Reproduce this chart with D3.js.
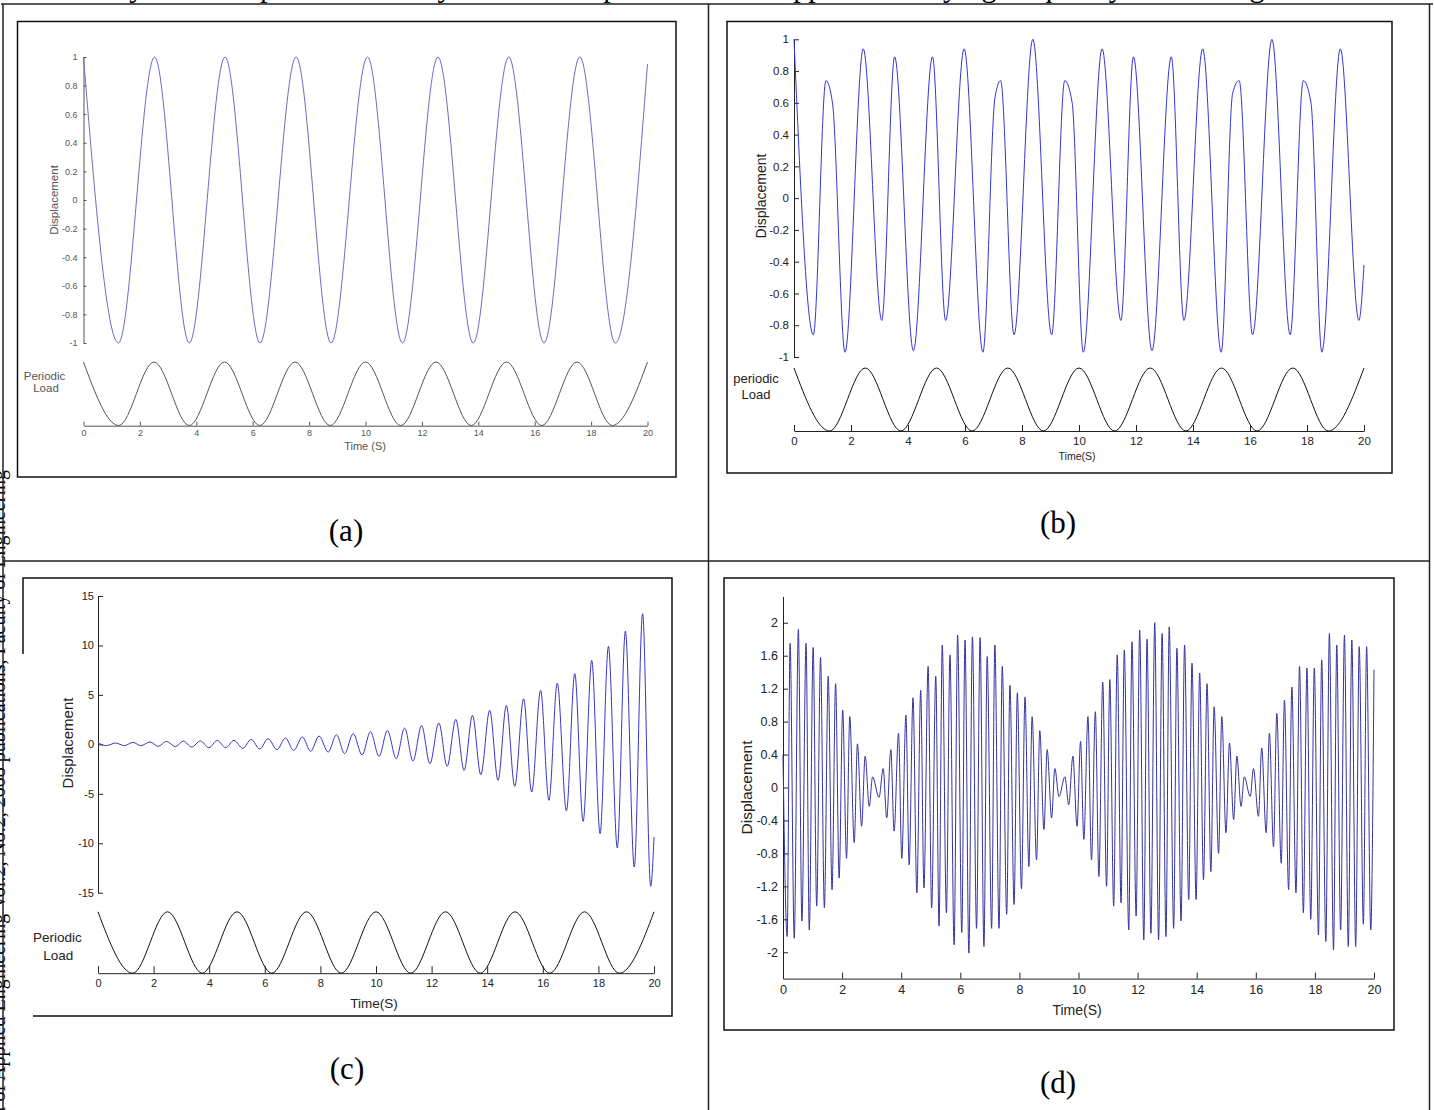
<!DOCTYPE html>
<html>
<head>
<meta charset="utf-8">
<script src="https://cdn.jsdelivr.net/npm/d3@7"></script>
<style>
body { margin: 0; background: #fff; }
svg { display: block; }
</style>
</head>
<body>
<svg id="fig" width="1434" height="1110"></svg>
<script>
// ---- data ----
// shared time axis ticks
const xTicks = [0, 2, 4, 6, 8, 10, 12, 14, 16, 18, 20];
const xTickLabels = ["0", "2", "4", "6", "8", "10", "12", "14", "16", "18", "20"];

// periodic load (same in a, b, c): extrema, normalised
const loadT = [0, 1.25, 2.5, 3.75, 5, 6.25, 7.5, 8.75, 10, 11.25, 12.5, 13.75, 15, 16.25, 17.5, 18.75, 20];
const loadV = [1, -1, 1, -1, 1, -1, 1, -1, 1, -1, 1, -1, 1, -1, 1, -1, 1];

// (a) displacement extrema
const dispA_t = [0, 1.24, 2.52, 3.75, 5.02, 6.26, 7.54, 8.78, 10.07, 11.31, 12.57, 13.82, 15.08, 16.33, 17.6, 18.86, 20];
const dispA_v = [1, -1, 1, -1, 1, -1, 1, -1, 1, -1, 1, -1, 1, -1, 1, -1, 0.95];

// (b) displacement extrema (plus the small shoulders next to the low peaks)
const dispB_t = [0, 0.68, 1.12, 1.35, 1.79, 2.43, 3.08, 3.53, 4.19, 4.86, 5.32, 5.97, 6.63, 7.05, 7.25, 7.72, 8.38, 9.04, 9.50, 9.76,
  10.15, 10.81, 11.47, 11.91, 12.56, 13.24, 13.68, 14.34, 14.99, 15.39, 15.62, 16.09, 16.77, 17.41, 17.87, 18.14, 18.52, 19.17, 19.82, 20];
const dispB_v = [1, -0.86, 0.74, 0.60, -0.97, 0.94, -0.77, 0.89, -0.96, 0.89, -0.77, 0.94, -0.97, 0.63, 0.74, -0.86, 1.0, -0.86, 0.74, 0.60,
  -0.97, 0.94, -0.77, 0.89, -0.96, 0.89, -0.77, 0.94, -0.97, 0.66, 0.74, -0.86, 1.0, -0.86, 0.74, 0.60, -0.97, 0.94, -0.77, -0.42];

// (c) growing response extrema
const dispC_t = [0, 0.30, 0.63, 0.95, 1.26, 1.54, 1.87, 2.17, 2.46, 2.79, 3.07, 3.37, 3.68, 3.99, 4.29, 4.59, 4.89, 5.21, 5.51, 5.82,
  6.12, 6.44, 6.74, 7.04, 7.35, 7.65, 7.95, 8.28, 8.58, 8.87, 9.18, 9.50, 9.80, 10.11, 10.41, 10.73, 11.03, 11.33, 11.64, 11.94,
  12.26, 12.56, 12.87, 13.17, 13.47, 13.77, 14.09, 14.39, 14.69, 14.99, 15.31, 15.60, 15.92, 16.22, 16.52, 16.85, 17.15, 17.45, 17.76, 18.06,
  18.36, 18.68, 18.97, 19.29, 19.59, 19.88, 20];
const dispC_v = [0.15, -0.13, 0.13, -0.13, 0.2, -0.13, 0.24, -0.2, 0.3, -0.24, 0.34, -0.27, 0.34, -0.34, 0.4, -0.34, 0.4, -0.4, 0.5, -0.47,
  0.57, -0.54, 0.64, -0.61, 0.74, -0.71, 0.84, -0.78, 0.98, -0.94, 1.08, -1.08, 1.28, -1.21, 1.38, -1.45, 1.65, -1.69, 1.89, -1.95,
  2.16, -2.22, 2.53, -2.63, 2.93, -3.07, 3.44, -3.64, 3.94, -4.25, 4.62, -4.82, 5.46, -5.66, 6.2, -6.74, 7.15, -7.79, 8.49, -9.03,
  9.91, -10.48, 11.46, -12.4, 13.21, -14.36, -9.37];

// (d) beating response, [time, value] of each peak / trough
const dispD = [
  [0, 0.4], [0.14, -1.81], [0.24, 1.75], [0.38, -1.83], [0.52, 1.92], [0.64, -1.62], [0.78, 1.75], [0.89, -1.73], [1.02, 1.70], [1.14, -1.44],
  [1.27, 1.58], [1.40, -1.46], [1.53, 1.35], [1.66, -1.24], [1.78, 1.26], [1.90, -1.10], [2.02, 0.94], [2.15, -0.86], [2.26, 0.86], [2.41, -0.67],
  [2.52, 0.53], [2.66, -0.47], [2.78, 0.38], [2.92, -0.23], [3.03, 0.13], [3.25, -0.12], [3.39, 0.23], [3.51, -0.37], [3.65, 0.46], [3.76, -0.53],
  [3.91, 0.66], [4.02, -0.86], [4.16, 0.88], [4.27, -0.94], [4.40, 1.09], [4.53, -1.28], [4.66, 1.18], [4.77, -1.22], [4.91, 1.47], [5.03, -1.46],
  [5.17, 1.35], [5.28, -1.68], [5.39, 1.73], [5.53, -1.52], [5.65, 1.61], [5.79, -1.91], [5.91, 1.85], [6.05, -1.76], [6.16, 1.79], [6.29, -2.01],
  [6.41, 1.83], [6.55, -1.71], [6.67, 1.82], [6.80, -1.93], [6.91, 1.59], [7.06, -1.71], [7.17, 1.73], [7.31, -1.71], [7.42, 1.47], [7.57, -1.54],
  [7.68, 1.24], [7.82, -1.42], [7.93, 1.15], [8.07, -1.23], [8.19, 1.10], [8.32, -0.96], [8.43, 0.86], [8.58, -0.88], [8.69, 0.69], [8.83, -0.51],
  [8.94, 0.46], [9.09, -0.37], [9.20, 0.23], [9.34, -0.11], [9.54, 0.13], [9.67, -0.21], [9.81, 0.38], [9.95, -0.47], [10.07, 0.56], [10.18, -0.63],
  [10.32, 0.86], [10.44, -0.88], [10.57, 0.92], [10.69, -1.08], [10.82, 1.28], [10.95, -1.20], [11.06, 1.31], [11.19, -1.44], [11.31, 1.61], [11.44, -1.40],
  [11.55, 1.67], [11.70, -1.73], [11.81, 1.77], [11.95, -1.56], [12.07, 1.91], [12.21, -1.85], [12.32, 1.80], [12.45, -1.77], [12.58, 2.0], [12.71, -1.85],
  [12.83, 1.87], [12.96, -1.81], [13.07, 1.95], [13.22, -1.71], [13.33, 1.69], [13.47, -1.62], [13.59, 1.73], [13.73, -1.36], [13.84, 1.51], [13.98, -1.36],
  [14.10, 1.39], [14.23, -1.12], [14.35, 1.26], [14.48, -1.02], [14.59, 0.98], [14.74, -0.80], [14.85, 0.86], [14.99, -0.55], [15.11, 0.54], [15.25, -0.39],
  [15.36, 0.38], [15.50, -0.23], [15.61, 0.13], [15.81, -0.11], [15.92, 0.23], [16.09, -0.35], [16.20, 0.48], [16.35, -0.55], [16.46, 0.66], [16.60, -0.72],
  [16.71, 0.90], [16.86, -0.92], [16.97, 1.06], [17.11, -1.24], [17.22, 1.22], [17.36, -1.28], [17.48, 1.47], [17.61, -1.52], [17.73, 1.45], [17.86, -1.60],
  [17.98, 1.45], [18.12, -1.79], [18.23, 1.55], [18.37, -1.87], [18.49, 1.87], [18.63, -1.97], [18.74, 1.73], [18.87, -1.73], [19.00, 1.85], [19.13, -1.93],
  [19.25, 1.79], [19.38, -1.93], [19.50, 1.71], [19.64, -1.66], [19.75, 1.71], [19.89, -1.73], [20, 1.43]
];

// y tick values / labels
const yTicksAB = [1, 0.8, 0.6, 0.4, 0.2, 0, -0.2, -0.4, -0.6, -0.8, -1];
const yLabelsAB = ["1", "0.8", "0.6", "0.4", "0.2", "0", "-0.2", "-0.4", "-0.6", "-0.8", "-1"];
const yTicksC = [15, 10, 5, 0, -5, -10, -15];
const yLabelsC = ["15", "10", "5", "0", "-5", "-10", "-15"];
const yTicksD = [2, 1.6, 1.2, 0.8, 0.4, 0, -0.4, -0.8, -1.2, -1.6, -2];
const yLabelsD = ["2", "1.6", "1.2", "0.8", "0.4", "0", "-0.4", "-0.8", "-1.2", "-1.6", "-2"];

// ---- drawing ----
const svg = d3.select("#fig");
const sans = "'Liberation Sans', Arial, sans-serif";
const serif = "'Liberation Serif', 'Times New Roman', serif";

// page text cut by the frame (only the descenders show in the picture)
svg.append("text").attr("x", 60).attr("y", -3)
  .attr("font-family", serif).attr("font-size", 30)
  .text("The dynamic responses of the system for the periodic loads applied at varying frequency ratios are given below");
svg.append("text").attr("transform", "translate(5,470) rotate(-90)")
  .attr("text-anchor", "end").attr("font-family", serif).attr("font-size", 20)
  .text("Journal of Applied Engineering Vol.2, No.2, 2008 publications, Faculty of Engineering");

// table frame
const frame = svg.append("g").attr("stroke", "#222").attr("stroke-width", 1.5).attr("fill", "none");
frame.append("path").attr("d", "M1,4 H1433");
frame.append("path").attr("d", "M3,4 V1110");
frame.append("path").attr("d", "M708.5,4 V1110");
frame.append("path").attr("d", "M1429.5,4 V1110");
frame.append("path").attr("d", "M3,561 H1430");

function label(g, txt, x, y, fs, rot, color) {
  g.append("text")
    .attr("transform", `translate(${x},${y})` + (rot ? " rotate(-90)" : ""))
    .attr("text-anchor", "middle").attr("dy", "0.35em")
    .attr("font-family", sans).attr("font-size", fs)
    .attr("fill", color).text(txt);
}

function panel(p) {
  const g = svg.append("g");
  g.append("path").attr("d", p.box).attr("fill", "none").attr("stroke", "#111").attr("stroke-width", 1.5);

  const x = d3.scaleLinear().domain([0, 20]).range(p.xRange);
  const y = d3.scaleLinear().domain(p.yDomain).range(p.yRange);

  const ya = g.append("g").attr("transform", `translate(${p.xRange[0]},0)`)
    .call(d3.axisLeft(y).tickValues(p.yTicks).tickFormat((d, i) => p.yLabels[i])
      .tickSizeInner(-p.tick).tickSizeOuter(0).tickPadding(p.yPad));
  ya.attr("font-family", sans).attr("font-size", p.tickFont);
  ya.selectAll("text").attr("fill", p.textColor);
  ya.selectAll("path, line").attr("stroke", p.axisColor);

  const xa = g.append("g").attr("transform", `translate(0,${p.xAxisY})`)
    .call(d3.axisBottom(x).tickValues(xTicks).tickFormat((d, i) => xTickLabels[i])
      .tickSizeInner(-p.xTick).tickSizeOuter(0).tickPadding(p.xPad));
  xa.attr("font-family", sans).attr("font-size", p.tickFont);
  xa.selectAll("text").attr("fill", p.textColor);
  xa.selectAll("path, line").attr("stroke", p.axisColor);

  const curve = d3.line().x(d => x(d[0])).curve(d3.curveMonotoneX);

  if (p.load) {
    const yl = d3.scaleLinear().domain([-1, 1]).range(p.load);
    g.append("path").datum(d3.zip(loadT, loadV))
      .attr("d", curve.y(d => yl(d[1])))
      .attr("fill", "none").attr("stroke", p.loadColor).attr("stroke-width", 1);
  }
  g.append("path").datum(p.disp)
    .attr("d", curve.y(d => y(d[1])))
    .attr("fill", "none").attr("stroke", p.color).attr("stroke-width", p.lineWidth || 1);

  label(g, "Displacement", p.dispLabel[0], p.dispLabel[1], p.dispFont, true, p.textColor);
  label(g, p.timeText, p.timeLabel[0], p.timeLabel[1], p.timeFont, false, p.textColor);
  if (p.loadLabel) {
    label(g, p.loadLabel[0], p.loadLabel[1], p.loadLabel[2], p.loadFont, false, p.textColor);
    label(g, "Load", p.loadLabel[3], p.loadLabel[4], p.loadFont, false, p.textColor);
  }
  g.append("text").attr("x", p.caption[1]).attr("y", p.caption[2]).attr("dy", "0.35em")
    .attr("text-anchor", "middle").attr("font-family", serif).attr("font-size", 31)
    .attr("fill", "#000").text(p.caption[0]);
}

panel({
  box: "M17.5,21.5 H676 V477 H17.5 Z",
  xRange: [83.5, 647.5], yDomain: [-1, 1], yRange: [343, 57],
  yTicks: yTicksAB, yLabels: yLabelsAB,
  tick: 3, xTick: 4, yPad: 6, xPad: 4, tickFont: 9,
  xAxisY: 425.7, load: [425.5, 362],
  disp: d3.zip(dispA_t, dispA_v), color: "#6b6bc6", loadColor: "#555",
  axisColor: "#555", textColor: "#555",
  dispLabel: [54, 200], dispFont: 11.5,
  timeText: "Time (S)", timeLabel: [365, 446], timeFont: 11,
  loadLabel: ["Periodic", 44.5, 376, 46, 388], loadFont: 11.5,
  caption: ["(a)", 346, 530]
});

panel({
  box: "M727,21.5 H1392 V473 H727 Z",
  xRange: [794, 1364], yDomain: [-1, 1], yRange: [357, 39.3],
  yTicks: yTicksAB, yLabels: yLabelsAB,
  tick: 5, xTick: 6, yPad: 5, xPad: 5.5, tickFont: 11.5,
  xAxisY: 431, load: [431, 368],
  disp: d3.zip(dispB_t, dispB_v), color: "#3535d4", loadColor: "#111",
  axisColor: "#222", textColor: "#222",
  dispLabel: [761, 196], dispFont: 14,
  timeText: "Time(S)", timeLabel: [1077, 456], timeFont: 10.5,
  loadLabel: ["periodic", 756, 378, 756, 394], loadFont: 13,
  caption: ["(b)", 1058, 522]
});

panel({
  box: "M23,654 V578 H672 V1016 H33",
  xRange: [98, 654], yDomain: [-15, 15], yRange: [892.7, 596],
  yTicks: yTicksC, yLabels: yLabelsC,
  tick: 5, xTick: 7, yPad: 4, xPad: 6.5, tickFont: 11,
  xAxisY: 973.2, load: [973.2, 911.8],
  disp: d3.zip(dispC_t, dispC_v), color: "#3636c6", loadColor: "#111",
  axisColor: "#222", textColor: "#222",
  dispLabel: [68, 743], dispFont: 15,
  timeText: "Time(S)", timeLabel: [374, 1003], timeFont: 13.5,
  loadLabel: ["Periodic", 57.4, 937, 58.3, 955], loadFont: 13.5,
  caption: ["(c)", 347, 1068]
});

panel({
  box: "M724,578 H1394 V1030 H724 Z",
  xRange: [783, 1374], yDomain: [-2.32, 2.32], yRange: [978.6, 596.4],
  yTicks: yTicksD, yLabels: yLabelsD,
  tick: 5, xTick: 6, yPad: 5, xPad: 7, tickFont: 12.5,
  xAxisY: 978.6, load: null,
  disp: dispD, color: "#34349e", loadColor: "#111",
  axisColor: "#222", textColor: "#222",
  dispLabel: [747, 787.5], dispFont: 15.5,
  timeText: "Time(S)", timeLabel: [1077, 1010], timeFont: 14,
  loadLabel: null,
  caption: ["(d)", 1058, 1082]
});
</script>
</body>
</html>
